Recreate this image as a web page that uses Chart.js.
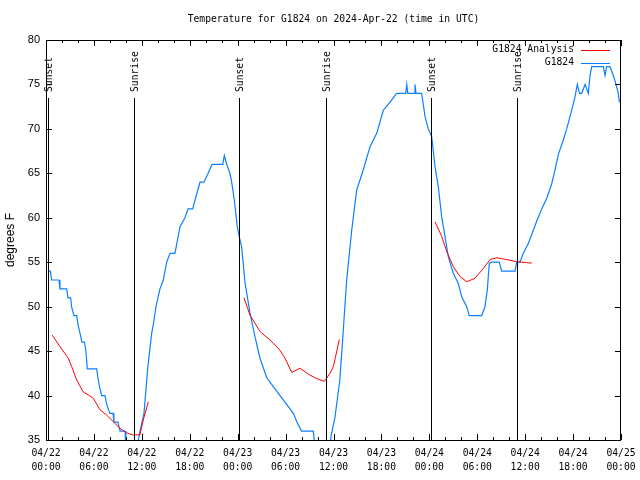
<!DOCTYPE html>
<html><head><meta charset="utf-8">
<script src="https://cdn.jsdelivr.net/npm/chart.js@4"></script>
<style>html,body{margin:0;padding:0;background:#fff}#wrap{width:640px;height:480px}</style>
</head><body><div id="wrap"><canvas id="c" width="640" height="480"></canvas></div>
<script>
const titleText = "Temperature for G1824 on 2024-Apr-22 (time in UTC)";
const yTitle = "degrees F";
const xMin = 0, xMax = 72, xStep = 2, xLabelStep = 6;
const yMin = 35, yMax = 80, yStep = 5;
const dayLabels = ["04/22", "04/23", "04/24", "04/25"];
const obsLabel = "G1824";
const anaLabel = "G1824 Analysis";
const obsColor = "#0a80ff";
const anaColor = "#ff0000";

// hours since 04/22 00:00 UTC
const obsHours = [0.29,0.55,0.71,1.63,1.75,2.59,2.75,3.09,3.2,3.5,3.84,4.0,4.26,4.5,4.82,5.0,5.17,6.35,6.5,6.7,6.97,7.39,7.6,8.0,8.4,8.5,9.0,9.27,9.9,10.0,11.4,11.56,11.77,12.27,12.73,13.23,13.44,13.77,14.27,14.69,15.11,15.53,16.15,16.78,17.4,17.78,18.37,18.66,19.28,19.78,20.3,20.79,22.13,22.33,22.63,23.04,23.25,23.58,23.95,24.17,24.5,24.92,25.54,26.17,26.8,27.64,28.46,29.3,30.14,30.97,31.43,32.0,33.47,33.7,35.56,35.7,36.19,36.8,37.23,37.65,38.28,38.9,39.73,40.57,41.41,42.24,43.08,43.91,45.05,45.17,45.3,46.08,46.2,46.33,47.04,47.46,47.87,48.3,48.71,49.12,49.55,49.96,50.38,51.0,51.63,52.05,52.68,53.0,54.56,54.97,55.26,55.51,55.81,56.76,57.06,58.73,58.94,59.35,59.77,60.39,61.02,61.44,62.07,62.7,63.32,63.74,64.15,64.78,65.2,65.83,66.24,66.53,66.8,67.08,67.5,67.91,68.12,68.33,69.79,70.0,70.2,70.62,71.04,71.38,71.66,71.79];
const obsTemps = [54,54,53,53,52,52,51,51,50,49,49,48,47,46,46,45,43,43,42,41,40,40,39,38,38,37,37,36,36,34,34,35,36,38,43,47,48,50,52,53,55,56,56,59,60,61,61,62,64,64,65,66,66,67,66,65,64,62,59,58,56.7,52.7,49.3,46.6,44.2,42,41,40,39,38,37,36,36,34,34,35.5,37.6,41.8,47.4,53,58.6,63.1,65.4,68,69.5,72.1,73,74,74,75,74,74,75,74,74,71.4,70,69.1,65.75,63.5,60.1,57.9,55.6,53.75,52.6,51.1,50,49,49,50,51.9,54.9,55,55,54,54,55,55,56,57.1,58.6,59.6,61,62.2,63.8,65.4,67.1,68.75,70,72.1,73.6,75,74,74,75,74,76,77,77,76,77,77,76,75,74,73];

const anaHours = [0.79,1.75,2.79,3.22,3.84,4.67,5.3,5.92,6.76,7.6,8.43,9.27,10.1,10.93,11.77,12.18,12.81, 18,
  24.79,25.54,26.8,28.05,29.3,29.93,30.77,31.81,33.06,33.9,34.85,35.56,35.98,36.73, 42,
  48.71,49.55,50.18,51.0,51.84,52.68,53.72,54.76,55.6,56.44,57.69,58.94,60.19,60.82];
const anaTemps = [46.8,45.5,44.2,43.25,41.75,40.4,40.06,39.7,38.4,37.8,37.06,36.3,35.8,35.56,35.6,37.25,39.3, null,
  51.0,49.06,47.2,46.25,45.1,44.2,42.6,43.06,42.3,41.9,41.6,42.5,43.25,46.3, null,
  59.56,57.9,56.2,54.5,53.4,52.8,53.2,54.3,55.3,55.5,55.3,55.06,54.95,54.9];

const eventHours = [0.29, 11.02, 24.2, 35.1, 48.2, 59.0];
const eventLabels = ["Sunset", "Sunrise", "Sunset", "Sunrise", "Sunset", "Sunrise"];

const MONO = "9.7px 'DejaVu Sans Mono'";
const pad2 = n => String(n).padStart(2, '0');

const deco = {
  id: 'deco',
  afterDatasetsDraw(chart) {
    const {ctx, chartArea: a, scales: {x, y}} = chart;
    ctx.save();
    ctx.strokeStyle = '#000'; ctx.fillStyle = '#000'; ctx.lineWidth = 1;
    // sunrise / sunset markers
    eventHours.forEach((h, i) => {
      const px = Math.round(x.getPixelForValue(h)) + 0.5;
      ctx.beginPath(); ctx.moveTo(px, a.top + 58); ctx.lineTo(px, a.bottom); ctx.stroke();
      ctx.save();
      ctx.translate(px + 1, a.top + 52);
      ctx.rotate(-Math.PI / 2);
      ctx.font = MONO; ctx.textAlign = 'left'; ctx.textBaseline = 'middle';
      ctx.fillText(eventLabels[i], 0, 0);
      ctx.restore();
    });
    // border
    ctx.strokeRect(a.left + 0.5, a.top + 0.5, a.right - a.left - 1, a.bottom - a.top);
    // inward ticks
    x.ticks.forEach(t => {
      const px = Math.round(x.getPixelForValue(t.value)) + 0.5;
      const len = (t.value % xLabelStep === 0) ? 6 : 3;
      ctx.beginPath();
      ctx.moveTo(px, a.bottom); ctx.lineTo(px, a.bottom - len);
      ctx.moveTo(px, a.top); ctx.lineTo(px, a.top + len);
      ctx.stroke();
    });
    y.ticks.forEach(t => {
      const py = Math.round(y.getPixelForValue(t.value)) + 0.5;
      ctx.beginPath();
      ctx.moveTo(a.left, py); ctx.lineTo(a.left + 6, py);
      ctx.moveTo(a.right, py); ctx.lineTo(a.right - 6, py);
      ctx.stroke();
    });
    // title
    ctx.font = MONO; ctx.textAlign = 'center'; ctx.textBaseline = 'middle';
    ctx.fillText(titleText, (a.left + a.right) / 2, 19);
    // legend
    const items = [[anaLabel, anaColor], [obsLabel, obsColor]];
    items.forEach(([lab, col], i) => {
      const ly = a.top + 9.5 + i * 13;
      ctx.fillStyle = '#000'; ctx.textAlign = 'right';
      ctx.fillText(lab, a.right - 47, ly);
      ctx.strokeStyle = col; ctx.beginPath();
      ctx.moveTo(a.right - 40, Math.round(ly) + 0.5); ctx.lineTo(a.right - 11, Math.round(ly) + 0.5); ctx.stroke();
    });
    ctx.restore();
  }
};

new Chart(document.getElementById('c'), {
  type: 'line',
  data: {
    datasets: [
      { label: anaLabel, data: anaHours.map((h, i) => ({x: h, y: anaTemps[i]})), borderColor: anaColor, borderWidth: 1, pointRadius: 0, spanGaps: false, tension: 0 },
      { label: obsLabel, data: obsHours.map((h, i) => ({x: h, y: obsTemps[i]})), borderColor: obsColor, borderWidth: 1.2, pointRadius: 0, tension: 0 }
    ]
  },
  options: {
    responsive: false, animation: false, devicePixelRatio: 1,
    layout: { padding: { left: 0, right: 19, top: 40, bottom: 0 } },
    plugins: { legend: { display: false }, title: { display: false }, tooltip: { enabled: false } },
    scales: {
      x: {
        type: 'linear', min: xMin, max: xMax,
        grid: { display: false, drawTicks: false }, border: { display: false },
        afterFit: s => { s.height = 40; s.paddingLeft = 0; s.paddingRight = 0; },
        ticks: {
          stepSize: xStep, autoSkip: false, maxRotation: 0, minRotation: 0, padding: 7,
          color: '#000', font: { family: 'DejaVu Sans Mono', size: 9.7, lineHeight: 1.38 },
          callback: v => (v % xLabelStep === 0) ? [dayLabels[Math.floor(v / 24)], pad2(v % 24) + ':00'] : ''
        }
      },
      y: {
        min: yMin, max: yMax,
        grid: { display: false, drawTicks: false }, border: { display: false },
        afterFit: s => { s.width = 46; },
        ticks: { stepSize: yStep, padding: 6, color: '#000', font: { family: 'Liberation Sans', size: 11 } },
        title: { display: true, text: yTitle, color: '#000', font: { family: 'Liberation Sans', size: 12 }, padding: { top: 3, bottom: 0 } }
      }
    }
  },
  plugins: [deco]
});
</script>
</body></html>
